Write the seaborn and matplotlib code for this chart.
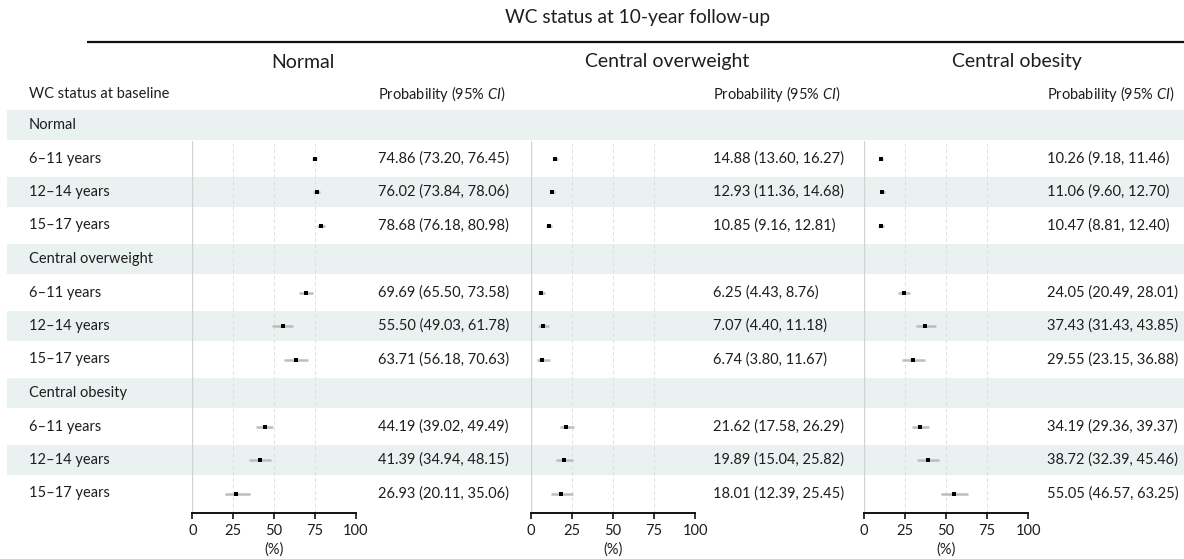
import matplotlib
matplotlib.use("Agg")
import matplotlib.pyplot as plt
import seaborn as sns
import pandas as pd

sns.set_theme(style="white")
plt.rcParams['font.family'] = ['Lato', 'DejaVu Sans']
plt.rcParams['mathtext.fontset'] = 'custom'
plt.rcParams['mathtext.rm'] = 'Lato'
plt.rcParams['mathtext.it'] = 'Lato:italic'

# ---- data -----------------------------------------------------------------
outcomes = ["Normal", "Central overweight", "Central obesity"]
baseline_groups = ["Normal", "Central overweight", "Central obesity"]
age_groups = ["6–11 years", "12–14 years", "15–17 years"]

# probabilities (%) ordered baseline group x age group
est_normal = [74.86, 76.02, 78.68, 69.69, 55.50, 63.71, 44.19, 41.39, 26.93]
lo_normal = [73.20, 73.84, 76.18, 65.50, 49.03, 56.18, 39.02, 34.94, 20.11]
hi_normal = [76.45, 78.06, 80.98, 73.58, 61.78, 70.63, 49.49, 48.15, 35.06]

est_overweight = [14.88, 12.93, 10.85, 6.25, 7.07, 6.74, 21.62, 19.89, 18.01]
lo_overweight = [13.60, 11.36, 9.16, 4.43, 4.40, 3.80, 17.58, 15.04, 12.39]
hi_overweight = [16.27, 14.68, 12.81, 8.76, 11.18, 11.67, 26.29, 25.82, 25.45]

est_obesity = [10.26, 11.06, 10.47, 24.05, 37.43, 29.55, 34.19, 38.72, 55.05]
lo_obesity = [9.18, 9.60, 8.81, 20.49, 31.43, 23.15, 29.36, 32.39, 46.57]
hi_obesity = [11.46, 12.70, 12.40, 28.01, 43.85, 36.88, 39.37, 45.46, 63.25]

x_ticks = [0, 25, 50, 75, 100]

series = {
    "Normal": (est_normal, lo_normal, hi_normal),
    "Central overweight": (est_overweight, lo_overweight, hi_overweight),
    "Central obesity": (est_obesity, lo_obesity, hi_obesity),
}

records = []
for outcome, (est, lo, hi) in series.items():
    k = 0
    for g, base in enumerate(baseline_groups):
        for a, age in enumerate(age_groups):
            records.append(dict(outcome=outcome, baseline=base, age=age,
                                row=g * 4 + a + 1, est=est[k], lo=lo[k], hi=hi[k]))
            k += 1
df = pd.DataFrame(records)

# ---- layout (pixels) ------------------------------------------------------
W, H = 1184, 559
ROW0, PITCH = 125.0, 33.5          # centre of first table row, row pitch
AX_TOP, AX_BOT = 141.0, 512.7
axis_x = [(192.3, 355.7), (531.0, 695.0), (864.0, 1028.3)]
value_x = [378.0, 713.0, 1047.0]
title_x = [303.0, 667.0, 1017.0]
TXT = "#1e1e1e"
SHADE = "#eaf2f1"
FS = 10.5


def row_px(r):
    return ROW0 + PITCH * r


fig = plt.figure(figsize=(W / 100, H / 100), dpi=100)
bg = fig.add_axes([0, 0, 1, 1])
bg.set_xlim(0, W)
bg.set_ylim(H, 0)
bg.axis("off")

# shaded bands: group header rows and middle age rows
for g in range(3):
    for r in (g * 4, g * 4 + 2):
        c = row_px(r)
        bg.fill_between([7.3, W], c - 15.4, c + 15.4, color=SHADE, lw=0, zorder=0)

# overall heading and rule
bg.text(638, 17, "WC status at 10-year follow-up", ha="center", va="center",
        fontsize=13.8, color=TXT)
bg.plot([87, W], [42, 42], color="#111111", lw=1.6, solid_capstyle="butt")

# panel headings
for x, name in zip(title_x, outcomes):
    bg.text(x, 62, name, ha="center", va="center", fontsize=14, color=TXT)

bg.text(29, 93.5, "WC status at baseline", ha="left", va="center", fontsize=FS, color=TXT)
for x in value_x:
    bg.text(x, 93.5, r"Probability (95% $\mathit{CI}$)", ha="left", va="center",
            fontsize=FS, color=TXT)

# row labels
for g, base in enumerate(baseline_groups):
    bg.text(29, row_px(g * 4), base, ha="left", va="center", fontsize=FS, color=TXT)
    for a, age in enumerate(age_groups):
        bg.text(29, row_px(g * 4 + a + 1), age, ha="left", va="center",
                fontsize=FS, color=TXT)

# value columns
for x, outcome in zip(value_x, outcomes):
    sub = df[df.outcome == outcome]
    for _, r in sub.iterrows():
        bg.text(x, row_px(r.row), f"{r.est:.2f} ({r.lo:.2f}, {r.hi:.2f})",
                ha="left", va="center", fontsize=FS, color=TXT)

# forest panels
y_top = (AX_TOP - ROW0) / PITCH
y_bot = (AX_BOT - ROW0) / PITCH
for (x0, x1), outcome in zip(axis_x, outcomes):
    ax = fig.add_axes([x0 / W, (H - AX_BOT) / H, (x1 - x0) / W, (AX_BOT - AX_TOP) / H])
    ax.patch.set_alpha(0)
    sub = df[df.outcome == outcome]
    ax.axvline(0, color="#d2d2d2", lw=1.0, zorder=1)
    for t in x_ticks[1:]:
        ax.axvline(t, color="#dedede", lw=0.7, ls=(0, (3.5, 3)), zorder=1)
    ax.hlines(sub.row, sub.lo, sub.hi, color="#bdbdbd", lw=1.8, zorder=2)
    sns.scatterplot(data=sub, x="est", y="row", marker="s", s=10, color="black",
                    edgecolor="black", linewidth=0, ax=ax, zorder=3, legend=False)
    ax.set_xlim(0, 100)
    ax.set_ylim(y_bot, y_top)
    ax.set_xticks(x_ticks)
    ax.set_yticks([])
    ax.set_ylabel("")
    ax.set_xlabel("(%)", fontsize=FS, color=TXT, labelpad=3)
    for s in ("left", "right", "top"):
        ax.spines[s].set_visible(False)
    ax.spines["bottom"].set_color("#111111")
    ax.spines["bottom"].set_linewidth(1.4)
    ax.tick_params(axis="x", bottom=True, length=4, width=1.2, color="#111111",
                   pad=4, labelsize=FS, labelcolor=TXT)

fig.savefig("out.png", dpi=100)
